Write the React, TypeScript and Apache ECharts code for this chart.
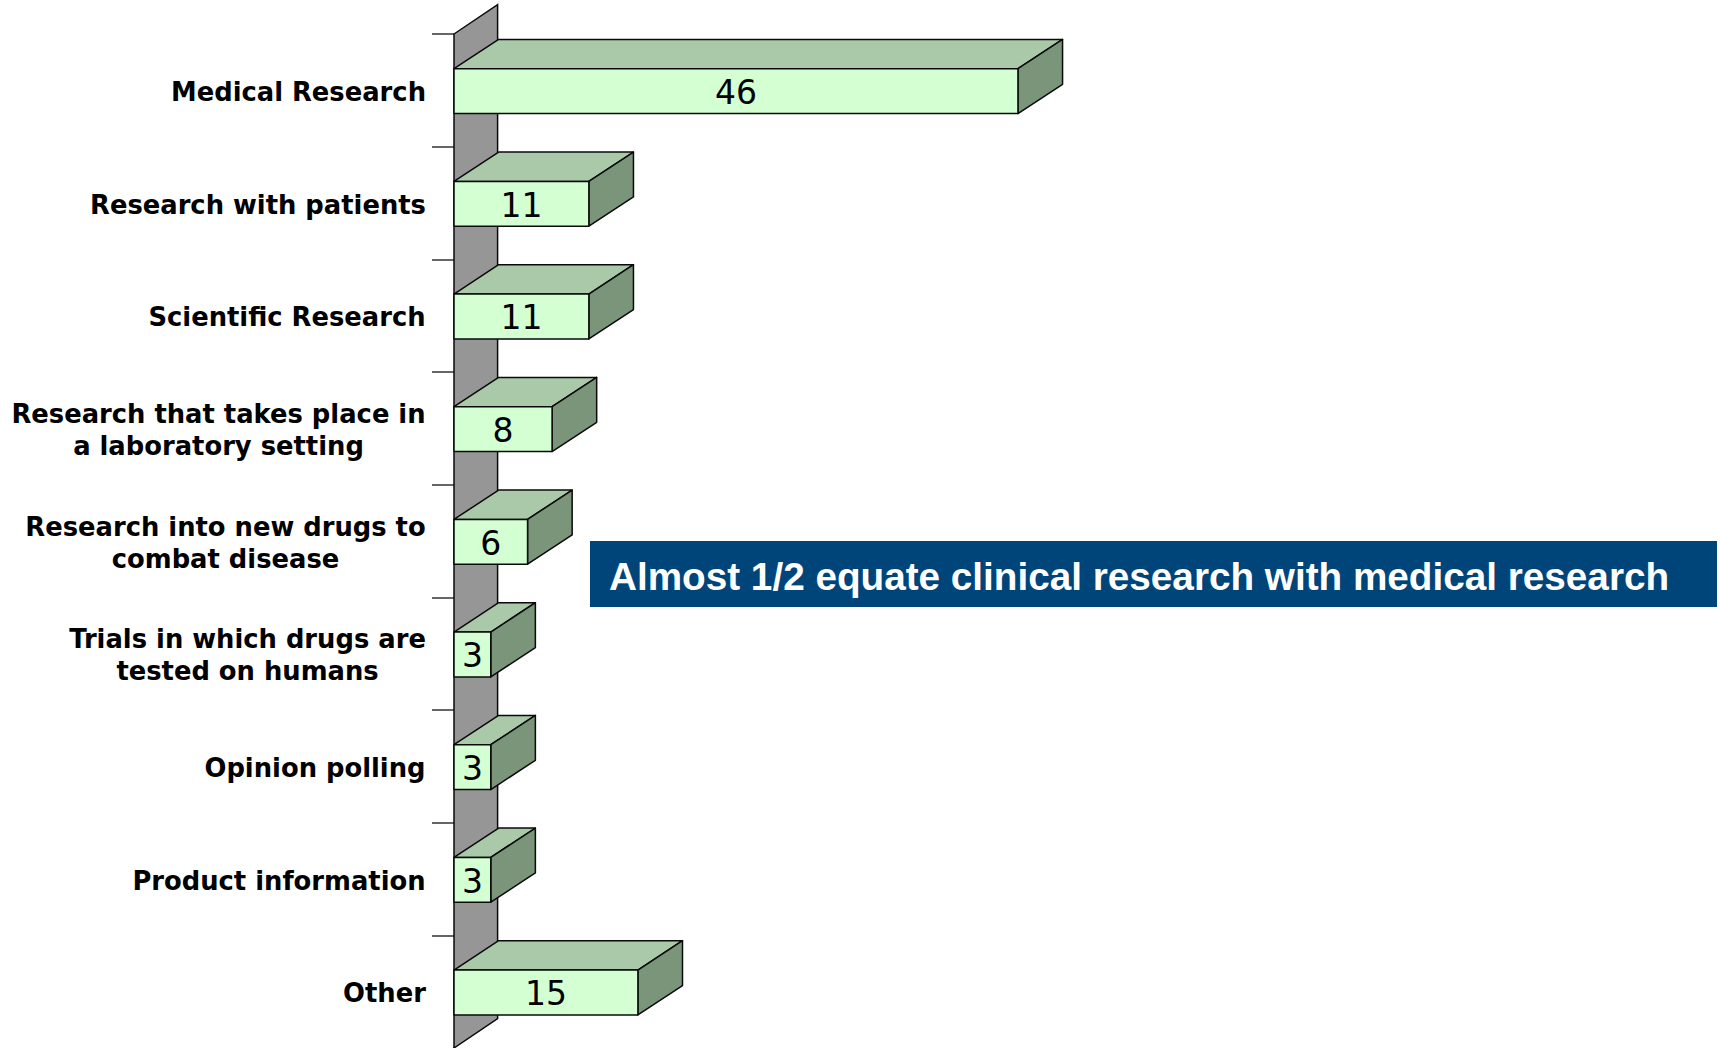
import React, { useEffect, useRef } from "react";
import * as echarts from "echarts";

const categories = [
  "Medical Research",
  "Research with patients",
  "Scientific Research",
  "Research that takes place in\na laboratory setting",
  "Research into new drugs to\ncombat disease",
  "Trials in which drugs are\ntested on humans",
  "Opinion polling",
  "Product information",
  "Other",
];
const values = [46, 11, 11, 8, 6, 3, 3, 3, 15];
const banner = "Almost 1/2 equate clinical research with medical research";

const LABEL_FONT = '"DejaVu Sans"';
const LABEL_SIZE = 25.8;
const DX = 44.6;
const DY = -29.3;
const FRONT = "#D3FFD3";
const TOP = "#A9C9A9";
const SIDE = "#7A957A";
const WALL = "#969696";
const EDGE = "#0a0a0a";

function measure(s: string) {
  const ctx = document.createElement("canvas").getContext("2d")!;
  ctx.font = `bold ${LABEL_SIZE}px ${LABEL_FONT}`;
  return ctx.measureText(s).width;
}

function buildRich() {
  const rich: Record<string, any> = {};
  categories.forEach((c, i) => {
    const w = Math.ceil(Math.max(...c.split("\n").map(measure)));
    rich["c" + i] = {
      width: w,
      align: "center",
      lineHeight: 32,
      fontFamily: LABEL_FONT,
      fontWeight: "bold",
      fontSize: LABEL_SIZE,
      color: "#000",
    };
  });
  return rich;
}

function renderWall(params: any, api: any) {
  const cs = params.coordSys;
  const x = cs.x;
  const t = cs.y;
  const b = cs.y + cs.height;
  return {
    type: "polygon",
    shape: { points: [[x, t], [x + DX - 1, t + DY], [x + DX - 1, b + DY], [x, b]] },
    style: { fill: WALL, stroke: EDGE, lineWidth: 1.5 },
  };
}

function renderBar(_params: any, api: any) {
  const v = api.value(0);
  const idx = api.value(1);
  const end = api.coord([v, idx]);
  const start = api.coord([0, idx]);
  const h = api.size([0, 1])[1] * 0.398;
  const y0 = end[1] + 0.8 - h / 2;
  const y1 = end[1] + 0.8 + h / 2;
  const x0 = start[0];
  const x1 = end[0];
  const line = { stroke: EDGE, lineWidth: 1.5, lineJoin: "round" };
  return {
    type: "group",
    children: [
      {
        type: "polygon",
        shape: { points: [[x0, y0], [x0 + DX, y0 + DY], [x1 + DX, y0 + DY], [x1, y0]] },
        style: { fill: TOP, ...line },
      },
      {
        type: "polygon",
        shape: { points: [[x1, y0], [x1 + DX, y0 + DY], [x1 + DX, y1 + DY], [x1, y1]] },
        style: { fill: SIDE, ...line },
      },
      {
        type: "rect",
        shape: { x: x0, y: y0, width: x1 - x0, height: y1 - y0 },
        style: { fill: FRONT, ...line },
      },
      {
        type: "text",
        x: (x0 + x1) / 2,
        y: end[1] + 2,
        style: {
          text: String(v),
          fill: "#000",
          font: '33px "DejaVu Sans"',
          textAlign: "center",
          textVerticalAlign: "middle",
        },
      },
    ],
  };
}

export default function App() {
  const ref = useRef<HTMLDivElement>(null);
  useEffect(() => {
    const chart = echarts.init(ref.current!, undefined, { renderer: "svg" });
    chart.setOption({
      animation: false,
      backgroundColor: "#fff",
      grid: { left: 454, top: 34, width: 1226, height: 1016, containLabel: false },
      xAxis: { type: "value", min: 0, max: 100, show: false },
      yAxis: {
        type: "category",
        inverse: true,
        data: categories,
        axisLine: { show: false },
        splitLine: { show: false },
        axisTick: {
          show: true,
          length: 22,
          alignWithLabel: false,
          lineStyle: { color: "#333", width: 1.5 },
        },
        axisLabel: {
          interval: 0,
          margin: 28,
          align: "right",
          padding: [3, 0, 0, 0],
          rich: buildRich(),
          formatter: (val: string) => {
            const i = categories.indexOf(val);
            return val.split("\n").map((l) => `{c${i}|${l}}`).join("\n");
          },
        },
      },
      series: [
        {
          type: "custom",
          renderItem: renderWall,
          data: [[0, 0]],
          encode: { x: 0, y: 1 },
          z: 1,
          silent: true,
        },
        {
          type: "custom",
          renderItem: renderBar,
          data: values.map((v, i) => [v, i]),
          encode: { x: 0, y: 1 },
          z: 2,
          silent: true,
        },
      ],
      graphic: [
        {
          type: "rect",
          x: 428,
          y: 1040,
          shape: { width: 25, height: 8 },
          style: { fill: "#fff" },
          z: 10,
        },
        {
          type: "rect",
          x: 590,
          y: 541,
          shape: { width: 1127, height: 66 },
          style: { fill: "#00457A" },
          z: 10,
        },
        {
          type: "text",
          x: 609,
          y: 576,
          z: 11,
          style: {
            text: banner,
            fill: "#fff",
            font: 'bold 38.7px "Liberation Sans"',
            textAlign: "left",
            textVerticalAlign: "middle",
          },
        },
      ],
    });
    return () => chart.dispose();
  }, []);
  return (
    <div
      ref={ref}
      style={{ position: "fixed", left: 0, top: 0, width: 1720, height: 1048 }}
    />
  );
}
